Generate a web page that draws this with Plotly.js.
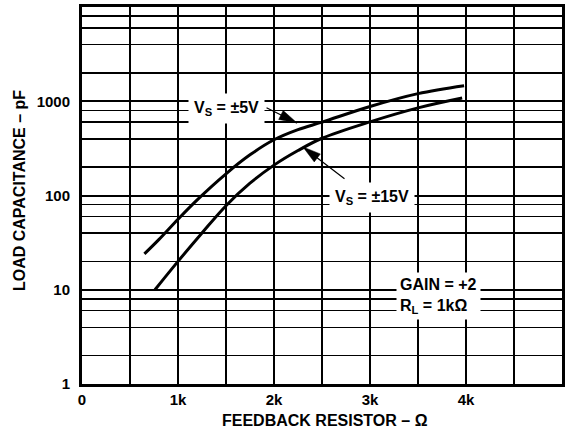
<!DOCTYPE html>
<html>
<head>
<meta charset="utf-8">
<script src="https://cdn.plot.ly/plotly-3.0.1.min.js"></script>
<style>html,body{margin:0;padding:0;background:#fff;}#chart{width:565px;height:434px;}</style>
</head>
<body>
<div id="chart"></div>
<script>
// Feedback resistor (ohms) and load capacitance (pF)
var rf5 = [650, 800, 1000, 1200, 1500, 1750, 2000, 2250, 2500, 3000, 3500, 3980];
var cl5 = [24, 34, 56, 90, 170, 270, 390, 500, 600, 880, 1205, 1462];
var rf15 = [760, 1000, 1250, 1500, 1750, 2000, 2250, 2500, 3000, 3500, 3960];
var cl15 = [10, 20, 40, 78, 135, 210, 300, 405, 605, 851, 1083];

var xTickVals = [0, 1000, 2000, 3000, 4000];
var xTickText = ['0', '1k', '2k', '3k', '4k'];
var yTickVals = [1, 10, 100, 1000];
var yTickText = ['1', '10', '100', '1000'];

var FONT = 'Liberation Sans, Arial, sans-serif';

var W = 565, H = 434, M = {l: 82, r: 3, t: 7, b: 50};
var XR = [0, 5000], YR = [0, 4];
var pxX = (XR[1] - XR[0]) / (W - M.l - M.r);   // data units per px (x)
var pxY = (YR[1] - YR[0]) / (H - M.t - M.b);   // log decades per px (y)

var xMinor = [500, 1500, 2500, 3500, 4500];
var yMinor = [];
[1, 10, 100, 1000].forEach(function (d) { [2, 4, 6, 8].forEach(function (m) { yMinor.push(d * m); }); });

var traces = [
  {x: rf5, y: cl5, mode: 'lines', line: {color: '#000', width: 3, shape: 'spline', smoothing: 1}, hoverinfo: 'skip'},
  {x: rf15, y: cl15, mode: 'lines', line: {color: '#000', width: 3, shape: 'spline', smoothing: 1}, hoverinfo: 'skip'}
];

var tickFont = {family: FONT, size: 15, color: '#000', weight: 'bold'};
var annFont = {family: FONT, size: 16, color: '#000', weight: 'bold'};
var titleFont = {family: FONT, size: 16, color: '#000', weight: 'bold'};

// arrow pointers: tip position (x data, y log10), tail offset (px, screen)
var arrows = [
  {x: 2240, y: 2.769, ax: -32, ay: -16},
  {x: 2302, y: 2.515, ax: 43, ay: 33}
];

var annotations = [
  {xref: 'x', yref: 'y', x: 1505, y: 2.918, text: 'V<sub>S</sub> = ±5V', showarrow: false,
   font: annFont, bgcolor: '#fff', borderpad: 5},
  {xref: 'x', yref: 'y', x: 3021, y: 1.984, text: 'V<sub>S</sub> = ±15V', showarrow: false,
   font: annFont, bgcolor: '#fff', borderpad: 5},
  {xref: 'x', yref: 'y', x: 3714, y: 0.934, text: 'GAIN = +2<br>R<sub>L</sub> = 1kΩ', showarrow: false,
   align: 'left', font: annFont, bgcolor: '#fff', borderpad: 3},
  {xref: 'paper', yref: 'paper', x: 0.506, y: -0.098, text: 'FEEDBACK RESISTOR – Ω', showarrow: false,
   font: titleFont, xanchor: 'center', yanchor: 'middle'},
  {xref: 'paper', yref: 'paper', x: -0.129, y: 0.512, text: 'LOAD CAPACITANCE – pF', showarrow: false,
   textangle: -90, font: titleFont, xanchor: 'center', yanchor: 'middle'}
];

arrows.forEach(function (a) {
  annotations.push({xref: 'x', yref: 'y', x: a.x, y: a.y, text: '', showarrow: true, ax: a.ax, ay: a.ay,
    arrowhead: 0, arrowwidth: 1.2, arrowcolor: '#000', standoff: 0});
  // filled, elongated arrowhead built in screen px then mapped to data space
  var L = Math.sqrt(a.ax * a.ax + a.ay * a.ay);
  var ux = -a.ax / L, uy = -a.ay / L;
  var len = 18, hw = 5;
  var bx = -len * ux, by = -len * uy;
  var px = -uy * hw, py = ux * hw;
  var pts = [[0, 0], [bx + px, by + py], [bx - px, by - py], [0, 0]];
  traces.push({
    x: pts.map(function (p) { return a.x + p[0] * pxX; }),
    y: pts.map(function (p) { return Math.pow(10, a.y - p[1] * pxY); }),
    mode: 'lines', fill: 'toself', fillcolor: '#000', line: {color: '#000', width: 0.5}, hoverinfo: 'skip'
  });
});

var layout = {
  width: W, height: H,
  margin: M,
  paper_bgcolor: '#fff', plot_bgcolor: '#fff',
  showlegend: false,
  xaxis: {
    range: XR, tickvals: xTickVals, ticktext: xTickText,
    showgrid: true, gridcolor: '#000', gridwidth: 1.5,
    minor: {tickvals: xMinor, showgrid: true, gridcolor: '#000', gridwidth: 1.5, ticks: ''},
    showline: true, linecolor: '#000', linewidth: 3, mirror: true,
    ticks: '', zeroline: false, tickfont: tickFont, fixedrange: true
  },
  yaxis: {
    type: 'log', range: YR, tickvals: yTickVals, ticktext: yTickText,
    showgrid: true, gridcolor: '#000', gridwidth: 2,
    minor: {tickvals: yMinor, showgrid: true, gridcolor: '#000', gridwidth: 1.5, ticks: ''},
    showline: true, linecolor: '#000', linewidth: 3, mirror: true,
    ticks: '', zeroline: false, tickfont: tickFont, ticklabelstandoff: 6, fixedrange: true
  },
  annotations: annotations
};

Plotly.newPlot('chart', traces, layout, {staticPlot: true, displayModeBar: false});
</script>
</body>
</html>
